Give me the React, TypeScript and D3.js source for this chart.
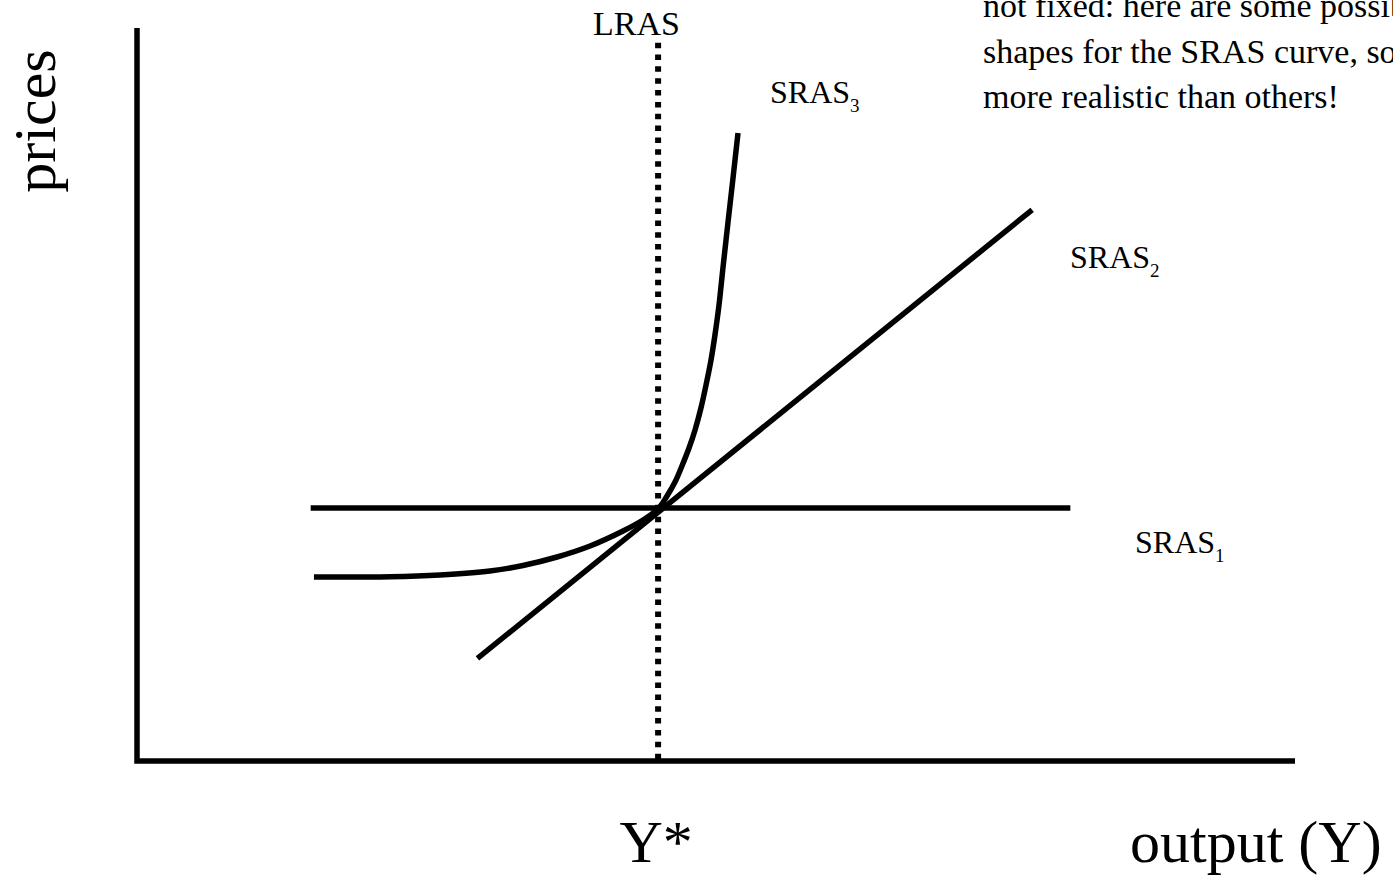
import React from "react";
import * as d3 from "d3";

// Abstract units: output on x (0–100), prices on y (0–100)
const yStar = 45.0;
const lrasRange = [0, 98];
const sras1 = [
  { x: 15.0, y: 34.5 },
  { x: 80.6, y: 34.5 },
];
const sras2 = [
  { x: 29.4, y: 14.0 },
  { x: 77.3, y: 75.2 },
];
const sras3 = [
  { x: 15.28, y: 25.1 },
  { x: 21.85, y: 25.14 },
  { x: 26.17, y: 25.38 },
  { x: 30.48, y: 25.92 },
  { x: 33.33, y: 26.67 },
  { x: 36.27, y: 27.83 },
  { x: 39.12, y: 29.33 },
  { x: 41.97, y: 31.38 },
  { x: 43.7, y: 32.88 },
  { x: 44.99, y: 34.38 },
  { x: 45.77, y: 36.15 },
  { x: 46.46, y: 38.06 },
  { x: 47.06, y: 40.25 },
  { x: 47.67, y: 42.7 },
  { x: 48.19, y: 45.16 },
  { x: 48.7, y: 48.16 },
  { x: 49.14, y: 51.3 },
  { x: 49.57, y: 54.71 },
  { x: 49.91, y: 58.12 },
  { x: 50.26, y: 62.21 },
  { x: 50.6, y: 67.26 },
  { x: 51.04, y: 73.53 },
  { x: 51.47, y: 79.54 },
  { x: 51.9, y: 85.68 },
];
const noteLines = [
  "not fixed: here are some possible",
  "shapes for the SRAS curve, some",
  "more realistic than others!",
];
const curveLabels = [
  { name: "SRAS", sub: "3", x: 770, y: 103 },
  { name: "SRAS", sub: "2", x: 1070, y: 268 },
  { name: "SRAS", sub: "1", x: 1135, y: 553 },
];

const W = 1393;
const H = 876;
const FONT = "'Liberation Serif', 'Times New Roman', serif";

export default function App() {
  const x = d3.scaleLinear().domain([0, 100]).range([137, 1295]);
  const y = d3.scaleLinear().domain([0, 100]).range([761, 28]);
  const line = d3
    .line<{ x: number; y: number }>()
    .x((d) => x(d.x))
    .y((d) => y(d.y));
  const curved = d3
    .line<{ x: number; y: number }>()
    .x((d) => x(d.x))
    .y((d) => y(d.y))
    .curve(d3.curveCatmullRom.alpha(0.5));

  const axisPath = `M${x(0)},${y(100)} L${x(0)},${y(0)} L${x(100)},${y(0)}`;
  const SW = 5.5;

  return (
    <svg
      width={W}
      height={H}
      style={{ position: "absolute", left: 0, top: 0, background: "#fff" }}
      fontFamily={FONT}
    >
      <rect width={W} height={H} fill="#fff" />
      {/* axes */}
      <path d={axisPath} fill="none" stroke="#000" strokeWidth={SW} strokeLinejoin="miter" />
      {/* LRAS dotted */}
      <line
        x1={x(yStar)}
        x2={x(yStar)}
        y1={y(lrasRange[1])}
        y2={y(lrasRange[0])}
        stroke="#000"
        strokeWidth={6}
        strokeDasharray="5.5 6.35"
      />
      {/* SRAS1 */}
      <path d={line(sras1) || ""} fill="none" stroke="#000" strokeWidth={SW} />
      {/* SRAS2 */}
      <path d={line(sras2) || ""} fill="none" stroke="#000" strokeWidth={SW} />
      {/* SRAS3 */}
      <path d={curved(sras3) || ""} fill="none" stroke="#000" strokeWidth={SW} />

      {/* labels */}
      <text x={593} y={35} fontSize={34} fill="#000">LRAS</text>
      {curveLabels.map((l) => (
        <text key={l.sub} x={l.x} y={l.y} fontSize={32} fill="#000">
          {l.name}
          <tspan fontSize={19} dy={9}>{l.sub}</tspan>
        </text>
      ))}
      {noteLines.map((t, i) => (
        <text key={i} x={983} y={17 + i * 45.5} fontSize={34} fill="#000">
          {t}
        </text>
      ))}
      <text
        transform={`translate(55,121) rotate(-90)`}
        textAnchor="middle"
        fontSize={60}
        fill="#000"
      >
        prices
      </text>
      <text x={x(yStar) - 2} y={862} textAnchor="middle" fontSize={60} fill="#000">
        Y*
      </text>
      <text x={1130} y={862} fontSize={60} fill="#000">
        output (Y)
      </text>
    </svg>
  );
}
